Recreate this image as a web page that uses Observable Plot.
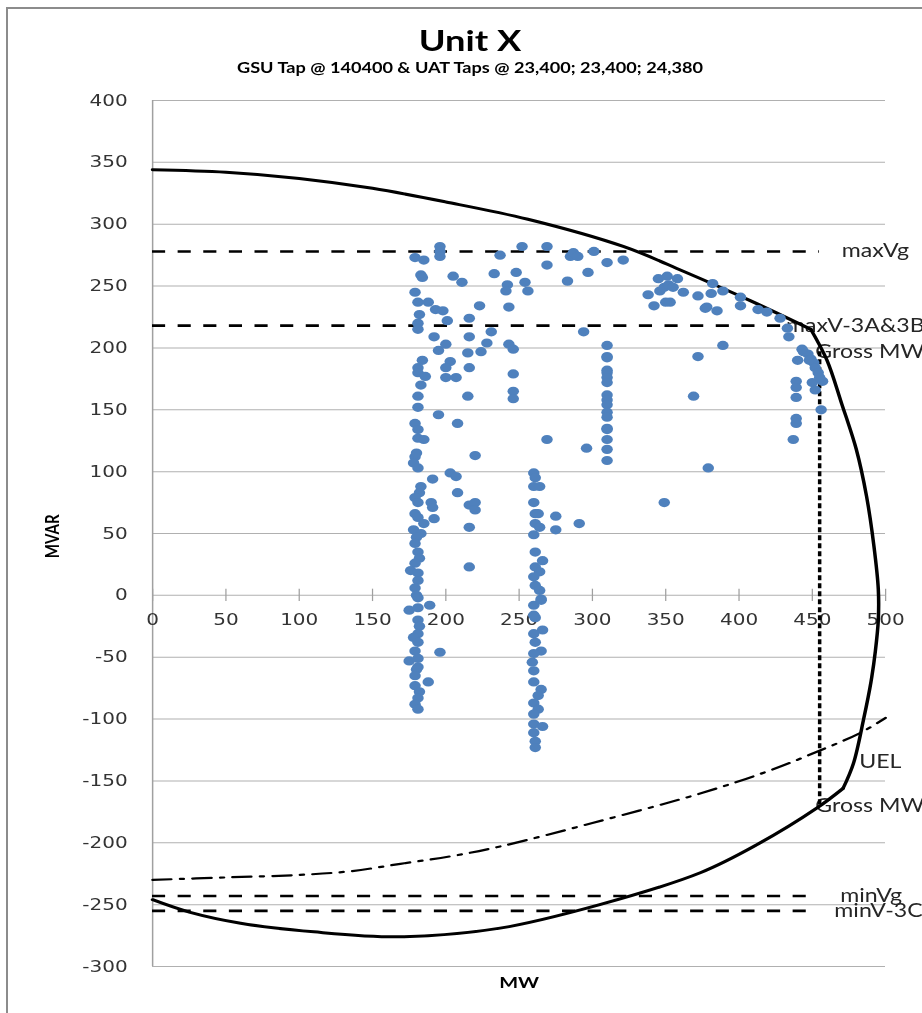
<!DOCTYPE html>
<html>
<head>
<meta charset="utf-8">
<script src="https://cdn.jsdelivr.net/npm/d3@7"></script>
<script src="https://cdn.jsdelivr.net/npm/@observablehq/plot@0.6"></script>
<style>
  html, body { margin: 0; padding: 0; background: #fff; overflow: hidden; width: 922px; height: 1013px; }
  #frame { position: absolute; left: 6px; top: 7px; width: 1000px; height: 1100px; border: 2px solid #8c8c8c; z-index: 5; pointer-events: none; }
  #stage { position: absolute; left: 0; top: 0; width: 738px; transform: scaleX(1.25); transform-origin: 0 0; z-index: 1; }
  #head { position: relative; height: 88px; }
  #title { position: absolute; left: 14px; right: 0; top: 23px; text-align: center; font-family: Lato, sans-serif; font-weight: 700; font-size: 29px; line-height: 1.2; color: #000; }
  #subtitle { position: absolute; left: 14px; right: 0; top: 59px; text-align: center; font-family: Lato, sans-serif; font-weight: 700; font-size: 14.5px; line-height: 1.2; color: #000; }
</style>
</head>
<body>
<div id="stage">
  <div id="head">
    <div id="title">Unit X</div>
    <div id="subtitle">GSU Tap @ 140400 &amp; UAT Taps @ 23,400; 23,400; 24,380</div>
  </div>
  <div id="chart"></div>
</div>
<div id="frame"></div>
<script>
// ---- tick values ----
const xTicks = [0, 50, 100, 150, 200, 250, 300, 350, 400, 450, 500];
const yTicks = [-300, -250, -200, -150, -100, -50, 0, 50, 100, 150, 200, 250, 300, 350, 400];

// ---- operating points [MW, MVAR] ----
const operatingPoints = [
  // column near 180 MW
  [179,273],[185,271],[183,259],[184,257],[179,245],[181,237],[188,237],[193,231],[198,230],[201,222],
  [182,227],[181,220],[181,215],[192,209],[195,198],[200,203],[184,190],[181,184],[181,180],[186,177],
  [183,170],[181,161],[181,152],[195,146],[208,139],[179,139],[181,134],[181,127],[185,126],[179,112],
  [178,107],[181,103],[180,115],[183,88],[182,83],[179,79],[181,75],[179,66],[181,63],[185,58],[178,53],
  [183,50],[180,47],[179,42],[181,35],[182,30],[179,26],[176,20],[181,18],[181,12],[179,6],[180,0],
  [181,-2],[175,-12],[181,-10],[189,-8],[181,-20],[182,-25],[181,-31],[178,-34],[181,-38],[179,-45],
  [196,-46],[175,-53],[181,-51],[181,-58],[180,-60],[179,-65],[188,-70],[179,-73],[182,-78],[181,-83],
  [179,-88],[181,-92],
  // 190-230 MW
  [196,282],[196,278],[196,274],[205,258],[211,253],[223,234],[216,224],[216,209],[228,204],[231,213],
  [224,197],[215,196],[216,184],[215,161],[203,189],[200,184],[200,176],[207,176],[220,113],[191,94],
  [203,99],[207,96],[208,83],[190,75],[191,71],[192,62],[216,73],[220,75],[220,69],[216,55],[216,23],
  // 235-325 MW upper
  [237,275],[233,260],[242,251],[241,246],[243,233],[248,261],[252,282],[254,253],[256,246],[243,203],
  [246,199],[246,179],[246,165],[246,159],[269,282],[269,267],[283,254],[285,274],[287,277],[290,274],
  [297,261],[301,278],[310,269],[321,271],[294,213],[269,126],[275,64],[275,53],[291,58],[296,119],
  // column near 260 MW
  [260,99],[261,95],[260,88],[264,88],[260,75],[261,66],[263,66],[261,58],[264,55],[260,49],[261,35],
  [266,28],[261,23],[264,19],[260,15],[261,8],[264,4],[265,-3],[260,-8],[261,-18],[265,-4],[260,-16],
  [266,-28],[260,-31],[261,-38],[265,-45],[260,-47],[259,-54],[260,-61],[260,-70],[265,-76],[263,-81],
  [260,-87],[263,-92],[260,-96],[260,-104],[266,-106],[260,-111],[261,-118],[261,-123],
  // column near 310 MW
  [310,202],[310,193],[310,192],[310,182],[310,180],[310,176],[310,172],[310,162],[310,158],[310,154],
  [310,148],[310,144],[310,135],[310,134],[310,126],[310,118],[310,109],
  // 335-405 MW
  [338,243],[342,234],[345,256],[346,246],[349,249],[351,258],[352,251],[353,237],[350,237],[355,249],
  [358,256],[362,245],[372,242],[372,193],[369,161],[349,75],[379,103],[377,232],[381,244],[382,252],
  [385,230],[389,246],[401,241],[401,234],[389,202],[378,233],
  // 410-460 MW
  [413,231],[419,229],[428,224],[433,216],[434,209],[444,197],[447,195],[449,191],[451,188],[452,184],
  [454,180],[457,173],[450,172],[452,166],[440,190],[439,173],[439,168],[439,160],[456,150],[439,143],
  [439,139],[437,126],[443,199],[448,190],[455,176]
];

// ---- capability curve pieces [MW, MVAR] ----
const capabilityTop = [[0,344],[50,342],[100,337],[150,329],[200,318],[256,304],[321,282],[362,262],[408,238],[449,215]];
const capabilityRight = [[449,215],[460,190],[470,155],[480,118],[487,80],[492,40],[495,5],[495,-20],[493,-45],[490,-70],[485,-100],[478,-136],[471,-156]];
const capabilityBottom = [[471,-156],[453,-172],[413,-201],[374,-224],[305,-250],[237,-269],[169,-276],[110,-272],[60,-265],[25,-256],[0,-246]];

// ---- under-excitation limit [MW, MVAR] ----
const uelCurve = [[0,-230],[50,-228],[100,-226],[135,-223],[169,-217],[203,-211],[237,-203],[300,-184],[374,-160],[420,-142],[454,-126],[483,-111],[500,-99]];

// ---- voltage limit lines ----
const limitNames  = ["maxVg", "maxV-3A&3B", "minVg", "minV-3C"];
const limitMVAR   = [278, 218, -243, -255];
const limitEndMW  = [455, 432, 452, 452];
const limitLabelMW = [470, 432, 469, 465];

// ---- gross MW line ----
const grossMW = 455;
const grossTopMVAR = 197;
const grossBottomMVAR = -170;
const uelLabel = {name: "UEL", mw: 482, mvar: -135};

// ---- axis titles ----
const yTitle = {text: "MVAR", mvar: 30};
const xTitle = "MW";

const limits = limitNames.map((n, i) => ({name: n, mvar: limitMVAR[i], end: limitEndMW[i], lx: limitLabelMW[i]}));
const curveLabels = [
  ...limits.map(d => ({name: d.name, mw: d.lx, mvar: d.mvar})),
  {name: "Gross MW", mw: 452, mvar: grossTopMVAR},
  {name: "Gross MW", mw: 452, mvar: grossBottomMVAR},
  uelLabel
];

const LINE_FONT = "Lato, sans-serif";
const chart = Plot.plot({
  width: 738,
  height: 925,
  marginLeft: 121.6,
  marginRight: 30,
  marginTop: 12,
  marginBottom: 47,
  style: {fontFamily: "DejaVu Sans, sans-serif", fontSize: "16px", background: "transparent", overflow: "visible"},
  x: {domain: [0, 500], axis: null},
  y: {domain: [-300, 400], axis: null},
  marks: [
    Plot.ruleY(yTicks, {y: d => d, stroke: "#b0b0b0", strokeWidth: 1}),
    Plot.ruleX([0], {stroke: "#a0a0a0", strokeWidth: 1.2}),
    Plot.ruleX(xTicks, {x: d => d, y1: -5, y2: 5, stroke: "#a0a0a0", strokeWidth: 1}),
    Plot.text(xTicks, {x: d => d, y: 0, dy: 25, text: d => String(d), fill: "#333", fontSize: 16, fontFamily: "DejaVu Sans, sans-serif"}),
    Plot.text(yTicks, {frameAnchor: "left", y: d => d, dx: -20, textAnchor: "end", text: d => String(d), fill: "#333", fontSize: 16, fontFamily: "DejaVu Sans, sans-serif"}),
    Plot.text([yTitle], {frameAnchor: "left", y: "mvar", dx: -80, rotate: -90, text: "text", fontFamily: LINE_FONT, fontWeight: "bold", fontSize: 15, fill: "#000"}),
    Plot.text([xTitle], {frameAnchor: "bottom", dy: 21, text: d => d, fontFamily: LINE_FONT, fontWeight: "bold", fontSize: 16, fill: "#000"}),
    Plot.text(curveLabels, {x: "mw", y: "mvar", text: "name", textAnchor: "start", lineAnchor: "middle", fontFamily: LINE_FONT, fontSize: 18.5, fill: "#262626"}),
    Plot.ruleY(limits, {y: "mvar", x1: 0, x2: "end", stroke: "#000", strokeWidth: 2.6, strokeDasharray: "10.5,10"}),
    Plot.line(uelCurve, {x: d => d[0], y: d => d[1], curve: "catmull-rom", stroke: "#000", strokeWidth: 2.2, strokeDasharray: "15,7,3,7"}),
    Plot.ruleX([grossMW], {x: d => d, y1: grossTopMVAR, y2: grossBottomMVAR, stroke: "#000", strokeWidth: 2.8, strokeDasharray: "5,3"}),
    Plot.line(capabilityTop, {x: d => d[0], y: d => d[1], curve: "catmull-rom", stroke: "#000", strokeWidth: 3}),
    Plot.line(capabilityRight, {x: d => d[0], y: d => d[1], curve: "catmull-rom", stroke: "#000", strokeWidth: 2.8}),
    Plot.line(capabilityBottom, {x: d => d[0], y: d => d[1], curve: "catmull-rom", stroke: "#000", strokeWidth: 3}),
    Plot.dot(operatingPoints, {x: d => d[0], y: d => d[1], r: 4.6, fill: "#4f81bd", stroke: "none"})
  ]
});
document.getElementById("chart").appendChild(chart);
</script>
</body>
</html>
